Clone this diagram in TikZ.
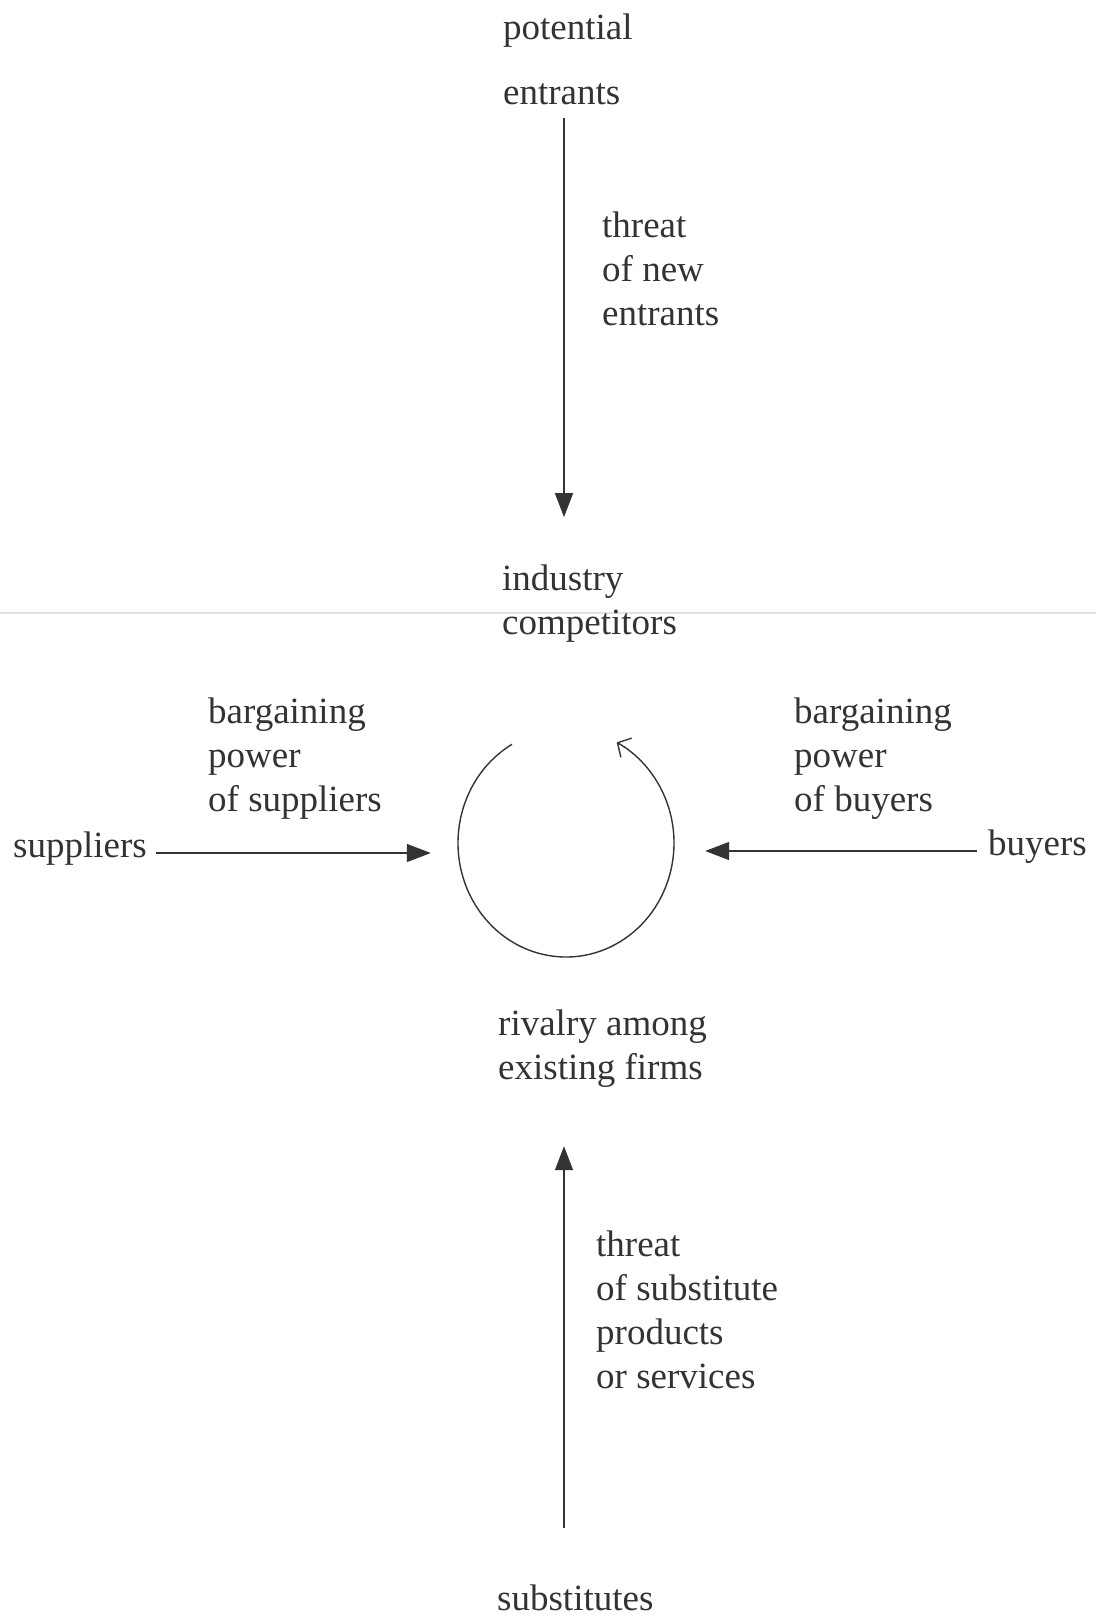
\documentclass[tikz,border=0pt]{standalone}
\usepackage{fontspec}
\setmainfont{Liberation Serif}
\usepackage{tikz}
\usepackage{xcolor}
\usetikzlibrary{shapes.geometric}
\usetikzlibrary{positioning}
\usetikzlibrary{arrows.meta,calc}

\definecolor{encre}{HTML}{333333}
\definecolor{pli}{HTML}{DCE3EA}

\begin{document}
\begin{tikzpicture} [
  x = 1pt, y = -1pt,
  texte/.style = {anchor = base west, align = left, inner sep = 0pt, text = encre,
                  font = \fontsize{37}{44}\selectfont},
  line/.style = {draw = encre, line width = 1.4pt, -{Triangle[length = 24pt, width = 18pt]}},
  boucle/.style = {draw = encre, line width = 1.4pt, -{Straight Barb[length = 10pt, width = 22pt]}},
]

\useasboundingbox (0,0) rectangle (1096,1617);
\draw [pli, line width = 1.5pt] (0,613) -- (1096,613);

 \node [texte] (pot) at (503,104) {potential\\[21pt]entrants};
 \node [texte] (ind) at (502,634) {industry\\competitors};
 \node [texte] (riv) at (498,1079) {rivalry among\\existing firms};
 \node [texte] (sub) at (497,1610) {substitutes};
 \node [texte] (sup) at (13,857) {suppliers};
 \node [texte] (buy) at (988,855) {buyers};

 \node [texte] (tnew) at (602,325) {threat\\of new\\entrants};
 \node [texte] (bsup) at (208,811) {bargaining\\power\\of suppliers};
 \node [texte] (bbuy) at (794,811) {bargaining\\power\\of buyers};
 \node [texte] (tsub) at (596,1388) {threat\\of substitute\\products\\or services};

 \node [ellipse, minimum width = 216pt, minimum height = 228pt, inner sep = 0pt] (cyc) at (566,843) {};
 \coordinate (axe) at (564,0);

 \begin{scope}[every path/.style=line]
\path [shorten < = 13pt, shorten > = 47pt] (pot.south -| axe) -- (ind.north -| axe);
\path [shorten < = 56pt, shorten > = 59pt] (sub.north -| axe) -- (riv.south -| axe);
\path [shorten < = 9pt, shorten > = 27pt] ([yshift = 4pt]sup.base east) -- ([yshift = 4pt]sup.base east -| cyc.west);
\path [shorten < = 11pt, shorten > = 31pt] ([yshift = 4pt]buy.base west) -- ([yshift = 4pt]buy.base west -| cyc.east);
\end{scope}

\draw [boucle] ([shift = {(-120:108 and 114)}]cyc.center) arc [start angle = -120, end angle = -422, x radius = 108, y radius = 114];

\end{tikzpicture}
\end{document}
